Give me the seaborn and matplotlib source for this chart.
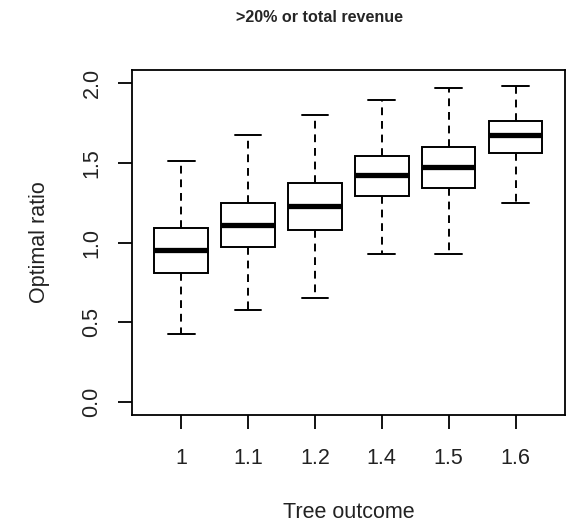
import pandas as pd
import matplotlib
matplotlib.use("Agg")
import matplotlib.pyplot as plt
import seaborn as sns

# five-number summaries
outcomes = ["1", "1.1", "1.2", "1.4", "1.5", "1.6"]
whisker_low = [0.43, 0.58, 0.65, 0.93, 0.93, 1.25]
q1 = [0.81, 0.97, 1.08, 1.29, 1.34, 1.56]
median = [0.95, 1.11, 1.23, 1.42, 1.47, 1.67]
q3 = [1.09, 1.25, 1.37, 1.54, 1.60, 1.76]
whisker_high = [1.51, 1.67, 1.80, 1.89, 1.97, 1.98]

# long table: 5 values per group -> percentiles land exactly on them
rows = []
for i, o in enumerate(outcomes):
    for v in (whisker_low[i], q1[i], median[i], q3[i], whisker_high[i]):
        rows.append({"Tree outcome": o, "Optimal ratio": v})
df = pd.DataFrame(rows)

sns.set_style("white")
plt.rcParams['font.family'] = ['Liberation Sans', 'DejaVu Sans']

fig = plt.figure(figsize=(5.68, 5.24), dpi=100)
ax = fig.add_axes([131.7 / 568, (524 - 415) / 524, (565 - 131.7) / 568, (415 - 70) / 524])

sns.boxplot(data=df, x="Tree outcome", y="Optimal ratio", order=outcomes,
            whis=(0, 100), width=0.8, color="white", linecolor="black",
            linewidth=1.4, fliersize=0, ax=ax,
            boxprops=dict(facecolor="white", edgecolor="black"),
            whiskerprops=dict(linestyle=(0, (4, 3))),
            medianprops=dict(linewidth=3.8, color="black"))

ax.set_xlim(-0.74, 5.74)
ax.set_ylim(-0.08, 2.08)
ax.set_yticks([0, 0.5, 1.0, 1.5, 2.0])
ax.set_yticklabels(["0.0", "0.5", "1.0", "1.5", "2.0"], rotation=90, va="center")

for s in ax.spines.values():
    s.set_visible(True)
    s.set_color("black")
    s.set_linewidth(1.3)

ax.tick_params(axis="both", which="major", direction="out", length=10, width=1.3,
               colors="black", labelsize=15.5, left=True, bottom=True)
ax.tick_params(axis="x", pad=13.5, labelcolor="#222222")
ax.tick_params(axis="y", pad=11, labelcolor="#222222")

ax.set_xlabel("Tree outcome", fontsize=15.5, va="center", color="#222222")
ax.xaxis.set_label_coords(0.5, (415 - 512) / 345)
ax.set_ylabel("Optimal ratio", fontsize=15.5, ha="center", va="center", color="#222222")
ax.yaxis.set_label_coords((40 - 131.7) / 433.3, 0.5)

fig.text(319 / 568, 1 - 18 / 524, ">20% or total revenue", fontsize=11.6,
         fontweight="bold", ha="center", va="center")

fig.savefig("out.png", dpi=100, facecolor="white")
